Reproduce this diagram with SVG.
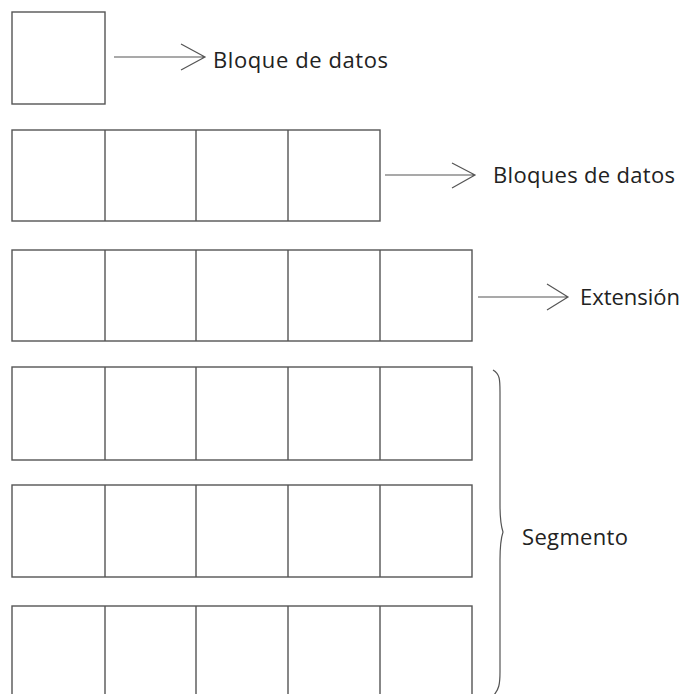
<svg xmlns="http://www.w3.org/2000/svg" width="683" height="694" viewBox="0 0 683 694">
<style>
.box{fill:none;stroke:#555;stroke-width:1.4}
.div{stroke:#555;stroke-width:1.4}
.conn{fill:none;stroke:#555;stroke-width:1.2}
.lbl{font-family:"Open Sans","Noto Sans",sans-serif;font-size:22px;fill:#222}
</style>
<rect width="683" height="694" fill="#fff"/>
<g id="bloque">
<rect class="box" x="12" y="12" width="93" height="92"/>
</g>
<g id="bloques">
<rect class="box" x="12" y="130" width="368" height="91"/>
<path class="div" d="M105 130V221M196 130V221M288 130V221"/>
</g>
<g id="extension">
<rect class="box" x="12" y="250" width="460" height="91"/>
<path class="div" d="M105 250V341M196 250V341M288 250V341M380 250V341"/>
</g>
<g id="seg1">
<rect class="box" x="12" y="367" width="460" height="93"/>
<path class="div" d="M105 367V460M196 367V460M288 367V460M380 367V460"/>
</g>
<g id="seg2">
<rect class="box" x="12" y="485" width="460" height="92"/>
<path class="div" d="M105 485V577M196 485V577M288 485V577M380 485V577"/>
</g>
<g id="seg3">
<rect class="box" x="12" y="606" width="460" height="100"/>
<path class="div" d="M105 606V706M196 606V706M288 606V706M380 606V706"/>
</g>
<g id="connectors">
<path class="conn" d="M114 57H204M181 44L205 57L181 70"/>
<path class="conn" d="M385 175H474M452 163L475 175L452 188"/>
<path class="conn" d="M478 297H567M547 284L568 297L547 310"/>
<path class="conn" d="M493 370C500 374 500 380 500 392V505C500 520 501 526 503 532C501 538 500 544 500 560V672C500 684 499 690 493 696"/>
</g>
<g id="labels">
<text class="lbl" x="213" y="68" textLength="175">Bloque de datos</text>
<text class="lbl" x="493" y="183" textLength="182">Bloques de datos</text>
<text class="lbl" x="580" y="305" textLength="100">Extensión</text>
<text class="lbl" x="522" y="545" textLength="106">Segmento</text>
</g>
</svg>
